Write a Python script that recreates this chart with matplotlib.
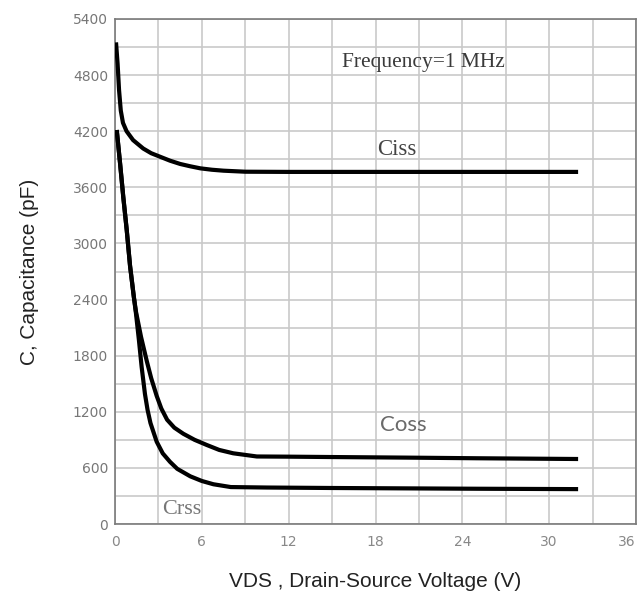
import matplotlib
matplotlib.use("Agg")
import matplotlib.pyplot as plt
from matplotlib.ticker import MultipleLocator

# Capacitance vs drain-source voltage
ciss_v = [0.07, 0.18, 0.28, 0.4, 0.55, 0.8, 1.25, 1.95, 2.5, 3.1, 3.8, 4.5, 5.2, 5.9,
          6.7, 7.5, 9.0, 12, 20, 32]
ciss_c = [5150, 4920, 4640, 4420, 4290, 4200, 4105, 4015, 3965, 3928, 3885, 3850, 3825,
          3803, 3788, 3778, 3767, 3765, 3765, 3765]

coss_v = [0.12, 0.35, 0.57, 0.81, 1.04, 1.3, 1.45, 1.8, 2.2, 2.5, 2.88, 3.2, 3.6, 4.1,
          4.72, 5.5, 6.34, 7.2, 8.17, 9.8, 12, 15, 20, 25, 32]
coss_c = [4213, 3857, 3500, 3144, 2760, 2430, 2270, 2000, 1740, 1560, 1370, 1235, 1115,
          1030, 965, 900, 845, 792, 756, 722, 720, 716, 710, 703, 695]

crss_v = [0.12, 0.35, 0.57, 0.81, 1.04, 1.3, 1.45, 1.65, 1.84, 2.07, 2.25, 2.45, 2.88,
          3.3, 3.8, 4.3, 5.2, 6.0, 6.8, 8.0, 10.5, 15, 20, 25, 32]
crss_c = [4213, 3857, 3500, 3144, 2760, 2430, 2250, 1970, 1680, 1390, 1220, 1080, 880,
          755, 665, 590, 510, 460, 425, 395, 390, 385, 381, 377, 373]

x_ticks = [0, 6, 12, 18, 24, 30, 36]
y_ticks = [0, 600, 1200, 1800, 2400, 3000, 3600, 4200, 4800, 5400]

fig = plt.figure(figsize=(6.41, 5.99), dpi=100)
ax = fig.add_axes([115 / 641, 1 - 524 / 599, 521 / 641, 505 / 599])

for v, c in [(ciss_v, ciss_c), (coss_v, coss_c), (crss_v, crss_c)]:
    ax.plot(v, c, color="black", linewidth=3.0, solid_joinstyle="round",
            solid_capstyle="butt", zorder=3)

ax.set_xlim(0, 36)
ax.set_ylim(0, 5400)
ax.set_xticks(x_ticks)
ax.set_yticks(y_ticks)
ax.xaxis.set_minor_locator(MultipleLocator(3))
ax.yaxis.set_minor_locator(MultipleLocator(300))
ax.grid(which="both", color="#c9c9c9", linewidth=1.2, zorder=0)
ax.set_axisbelow(True)
ax.tick_params(which="both", length=0)
ax.tick_params(axis="x", pad=8, labelsize=10, labelcolor="#888888")
ax.tick_params(axis="y", pad=5, labelsize=10, labelcolor="#777777")
ax.get_xticklabels()[-1].set_ha("right")
for s in ax.spines.values():
    s.set_color("#7a7a7a")
    s.set_linewidth(1.2)

ax.set_xlabel("VDS , Drain-Source Voltage (V)", fontsize=15, family="Liberation Sans",
              color="#222222")
ax.xaxis.set_label_coords(0.5, -0.096)
ax.set_ylabel("C, Capacitance (pF)", fontsize=15, family="Liberation Sans",
              color="#222222")
ax.yaxis.set_label_coords(-0.145, 0.5)

serif = "Liberation Serif"
ax.text(21.3, 4930, "Frequency=1 MHz", fontsize=15.5, family=serif, color="#3a3a3a",
        ha="center", va="center")
ax.text(19.5, 4000, "Ciss", fontsize=16.5, family=serif, color="#444444",
        ha="center", va="center")
ax.text(19.9, 1055, "Coss", fontsize=16, family="Lato", color="#6a6a6a",
        ha="center", va="center")
ax.text(4.6, 150, "Crss", fontsize=16, family=serif, color="#777777",
        ha="center", va="center")

fig.savefig("out.png", dpi=100)
